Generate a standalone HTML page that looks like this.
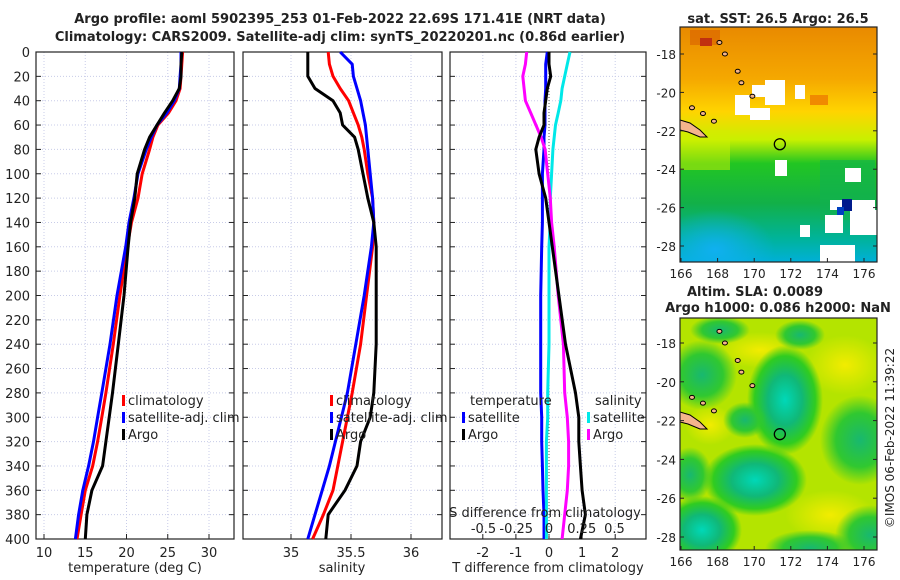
<!DOCTYPE html>
<html><head><meta charset="utf-8">
<style>
html,body{margin:0;padding:0;background:#fff;}
svg{display:block;font-family:"DejaVu Sans","Liberation Sans",sans-serif;}
</style></head>
<body>
<svg id="fig" width="900" height="580" viewBox="0 0 900 580" xmlns="http://www.w3.org/2000/svg">
<defs>
<linearGradient id="sstg" x1="0" y1="0" x2="0" y2="1">
<stop offset="0" stop-color="#e98a00"/><stop offset="0.22" stop-color="#f5a800"/>
<stop offset="0.36" stop-color="#ffd400"/><stop offset="0.48" stop-color="#c8f000"/>
<stop offset="0.58" stop-color="#22c622"/><stop offset="0.75" stop-color="#12b048"/>
<stop offset="0.9" stop-color="#00b39a"/><stop offset="1" stop-color="#00b0d8"/>
</linearGradient>
<radialGradient id="cyanblob" cx="0.5" cy="0.5" r="0.5"><stop offset="0" stop-color="#10b0f0"/><stop offset="1" stop-color="#10b0f0" stop-opacity="0"/></radialGradient>
<radialGradient id="tealblob" cx="0.5" cy="0.5" r="0.5"><stop offset="0" stop-color="#00d8b8"/><stop offset="0.45" stop-color="#10b878"/><stop offset="0.8" stop-color="#30cc20"/><stop offset="1" stop-color="#30cc20" stop-opacity="0"/></radialGradient>
<radialGradient id="greenblob" cx="0.5" cy="0.5" r="0.5"><stop offset="0" stop-color="#18b870"/><stop offset="0.6" stop-color="#30c830"/><stop offset="1" stop-color="#30c830" stop-opacity="0"/></radialGradient>
<radialGradient id="yelblob" cx="0.5" cy="0.5" r="0.5"><stop offset="0" stop-color="#f2ec00"/><stop offset="1" stop-color="#f2ec00" stop-opacity="0"/></radialGradient>
</defs>
<g id="root"></g>
</svg>
<script>
// ---- data ----
const depths = [0,10,20,30,40,50,60,70,80,100,120,140,160,200,240,280,300,320,340,360,380,400];
const tempClim = [26.8,26.7,26.6,26.5,26.0,25.1,23.8,23.2,22.8,21.9,21.4,20.6,20.1,19.2,18.4,17.5,17.0,16.5,15.9,15.0,14.5,14.0];
const tempSat  = [26.6,26.6,26.5,26.4,25.8,24.9,23.7,23.0,22.4,21.4,20.9,20.3,19.9,18.85,18.0,17.0,16.5,16.0,15.4,14.7,14.2,13.8];
const tempArgo = [26.7,26.6,26.6,26.4,25.6,24.6,23.7,22.8,22.2,21.3,21.0,20.5,20.2,19.7,19.0,18.3,17.9,17.5,17.1,15.8,15.2,15.0];
const salClim = [35.31,35.32,35.35,35.41,35.48,35.52,35.56,35.59,35.61,35.64,35.68,35.69,35.68,35.63,35.58,35.51,35.47,35.43,35.39,35.35,35.27,35.18];
const salSat  = [35.41,35.51,35.52,35.55,35.58,35.60,35.62,35.63,35.64,35.66,35.68,35.69,35.67,35.61,35.54,35.47,35.42,35.37,35.32,35.26,35.20,35.14];
const salArgo = [35.14,35.14,35.14,35.20,35.35,35.41,35.43,35.53,35.56,35.60,35.64,35.69,35.71,35.71,35.71,35.69,35.66,35.58,35.55,35.45,35.31,35.29];
const tDiffSat  = [-0.05,-0.1,-0.1,-0.1,-0.12,-0.12,-0.12,-0.15,-0.15,-0.2,-0.2,-0.2,-0.22,-0.25,-0.25,-0.25,-0.22,-0.22,-0.2,-0.18,-0.15,-0.15];
const tDiffArgo = [0.0,0.0,0.05,-0.05,-0.1,-0.15,-0.15,-0.3,-0.4,-0.3,-0.1,0.0,0.1,0.3,0.5,0.8,0.9,0.9,0.95,1.0,1.1,0.95];
const sDiffSat  = [0.16,0.14,0.12,0.10,0.09,0.07,0.05,0.04,0.03,0.02,0.01,0.01,0.0,0.0,0.0,-0.01,-0.01,-0.02,-0.02,-0.02,-0.02,-0.02];
const sDiffArgo = [-0.17,-0.18,-0.20,-0.19,-0.18,-0.14,-0.10,-0.06,-0.03,-0.01,0.01,0.02,0.04,0.07,0.11,0.12,0.14,0.15,0.15,0.14,0.12,0.10];
const depthTicks = [0,20,40,60,80,100,120,140,160,180,200,220,240,260,280,300,320,340,360,380,400];
const tempTicks = [10,15,20,25,30];
const salTicks = [35,35.5,36];
const tdTicks = [-2,-1,0,1,2];
const sdTicks = [-0.5,-0.25,0,0.25,0.5];
const sdTickLabels = ["-0.5","-0.25","0","0.25","0.5"];
const mapLonTicks = [166,168,170,172,174,176];
const mapLatTicks = [-18,-20,-22,-24,-26,-28];
const argoLon = 171.4, argoLat = -22.7;

const NS='http://www.w3.org/2000/svg';
const root=document.getElementById('root');
function mk(tag,attrs,parent,text){const e=document.createElementNS(NS,tag);for(const k in attrs)e.setAttribute(k,attrs[k]);if(text!==undefined)e.textContent=text;(parent||root).appendChild(e);return e;}

const Y0=52, Y1=539;
const yD = d => Y0 + (Y1-Y0)*d/400;
const panels = [
 {name:'temperature-panel', x0:36, x1:234, sx:v=>44+(v-10)*8.25},
 {name:'salinity-panel', x0:243, x1:442, sx:v=>291+(v-35)*120},
 {name:'difference-panel', x0:450, x1:646, sx:v=>549+v*33.1}
];
const sdx = v=>549+v*131;

function frame(p, ticks, sx){
  const g=mk('g',{});
  
  
  depthTicks.forEach(d=>{
    const l=mk('line',{x1:p.x0,x2:p.x1,y1:yD(d),y2:yD(d),stroke:'#c8cce8','stroke-width':1,'stroke-dasharray':'1,2'},g);
    
    
    mk('line',{x1:p.x0,x2:p.x0+5,y1:yD(d),y2:yD(d),stroke:'#222'},g);
    mk('line',{x1:p.x1,x2:p.x1-5,y1:yD(d),y2:yD(d),stroke:'#222'},g);
  });
  ticks.forEach(v=>{
    const x=sx(v);
    const l=mk('line',{x1:x,x2:x,y1:Y0,y2:Y1,stroke:'#c8cce8','stroke-width':1,'stroke-dasharray':'1,2'},g);
    
    
    mk('line',{x1:x,x2:x,y1:Y1,y2:Y1-5,stroke:'#222'},g);
  });
  mk('rect',{x:p.x0,y:Y0,width:p.x1-p.x0,height:Y1-Y0,fill:'none',stroke:'#222','stroke-width':1.2},g);
  return g;
}
function line(vals, sx, color, name, g){
  const pts=vals.map((v,i)=>sx(v).toFixed(1)+','+yD(depths[i]).toFixed(1)).join(' ');
  const e=mk('polyline',{points:pts,fill:'none',stroke:color,'stroke-width':3,'stroke-linejoin':'round'},g);
  
  
}
function txt(x,y,s,attrs,name,parent){
  const a=Object.assign({x:x,y:y,'font-size':13,fill:'#222'},attrs||{});
  const e=mk('text',a,parent,s);
  
  
  return e;
}
function legendEntry(x,y,color,label,g){
  const r=mk('rect',{x:x,y:y-10,width:3,height:11,fill:color},g);
  
  
  txt(x+6,y,label,{},'legend-entry',g);
}

// Titles
txt(340,23,'Argo profile: aoml 5902395_253 01-Feb-2022 22.69S 171.41E (NRT data)',{'font-weight':'bold','text-anchor':'middle','font-size':13},'chart-title-line1');
txt(340,41,'Climatology: CARS2009. Satellite-adj clim: synTS_20220201.nc (0.86d earlier)',{'font-weight':'bold','text-anchor':'middle','font-size':13},'chart-title-line2');

// Panel 1
const g1=frame(panels[0],tempTicks,panels[0].sx);
depthTicks.forEach(d=>txt(30,yD(d)+5,String(d),{'text-anchor':'end'},'y-tick-label',g1));
tempTicks.forEach(v=>txt(panels[0].sx(v),557,String(v),{'text-anchor':'middle'},'x-tick-label',g1));
txt(135,572,'temperature (deg C)',{'text-anchor':'middle'},'x-axis-title',g1);
line(tempClim,panels[0].sx,'#ff0000','temp-climatology-line',g1);
line(tempSat,panels[0].sx,'#0000ff','temp-satellite-line',g1);
line(tempArgo,panels[0].sx,'#000000','temp-argo-line',g1);
legendEntry(122,405,'#ff0000','climatology',g1);
legendEntry(122,422,'#0000ff','satellite-adj. clim',g1);
legendEntry(122,439,'#000000','Argo',g1);

// Panel 2
const g2=frame(panels[1],salTicks,panels[1].sx);
salTicks.forEach(v=>txt(panels[1].sx(v),557,String(v),{'text-anchor':'middle'},'x-tick-label',g2));
txt(342,572,'salinity',{'text-anchor':'middle'},'x-axis-title',g2);
line(salClim,panels[1].sx,'#ff0000','sal-climatology-line',g2);
line(salSat,panels[1].sx,'#0000ff','sal-satellite-line',g2);
line(salArgo,panels[1].sx,'#000000','sal-argo-line',g2);
legendEntry(330,405,'#ff0000','climatology',g2);
legendEntry(330,422,'#0000ff','satellite-adj. clim',g2);
legendEntry(330,439,'#000000','Argo',g2);

// Panel 3
const g3=frame(panels[2],tdTicks,panels[2].sx);
const z=mk('line',{x1:549,x2:549,y1:Y0,y2:Y1,stroke:'#555','stroke-width':1,'stroke-dasharray':'1,2'},g3);


tdTicks.forEach(v=>txt(panels[2].sx(v),557,String(v),{'text-anchor':'middle'},'t-diff-tick-label',g3));
txt(548,572,'T difference from climatology',{'text-anchor':'middle'},'t-diff-axis-title',g3);
line(tDiffSat,panels[2].sx,'#0000ff','tdiff-satellite-line',g3);
line(sDiffSat,sdx,'#00e8e8','sdiff-satellite-line',g3);
line(sDiffArgo,sdx,'#ff00ff','sdiff-argo-line',g3);
line(tDiffArgo,panels[2].sx,'#000000','tdiff-argo-line',g3);
txt(545,517,'S difference from climatology',{'text-anchor':'middle'},'s-diff-axis-title',g3);
sdTicks.forEach((v,i)=>txt(sdx(v),533,sdTickLabels[i],{'text-anchor':'middle'},'s-diff-tick-label',g3));
txt(470,405,'temperature',{},'legend-title-temperature',g3);
legendEntry(462,422,'#0000ff','satellite',g3);
legendEntry(462,439,'#000000','Argo',g3);
txt(595,405,'salinity',{},'legend-title-salinity',g3);
legendEntry(587,422,'#00e8e8','satellite',g3);
legendEntry(587,439,'#ff00ff','Argo',g3);

// Maps
const lonX = lon=>681+(lon-166)*18.3;
const lat1 = lat=>54+(-18-lat)*19.2;
const lat2 = lat=>343+(-18-lat)*19.4;

// SST map
const m1=mk('g',{});


const c1=mk('clipPath',{id:'cp1'},m1); mk('rect',{x:680,y:27,width:197,height:235},c1);
const b1=mk('g',{'clip-path':'url(#cp1)'},m1);
mk('rect',{x:680,y:27,width:197,height:235,fill:'url(#sstg)'},b1);
mk('ellipse',{cx:715,cy:250,rx:60,ry:40,fill:'url(#cyanblob)'},b1);
mk('rect',{x:690,y:30,width:30,height:15,fill:'#d86000',opacity:0.6},b1);
mk('rect',{x:700,y:38,width:12,height:8,fill:'#c03010'},b1);
mk('rect',{x:810,y:95,width:18,height:10,fill:'#f08a00'},b1);
mk('rect',{x:820,y:160,width:55,height:60,fill:'#10b050',opacity:0.6},b1);
mk('rect',{x:680,y:130,width:50,height:40,fill:'#d0f000',opacity:0.5},b1);
[[735,95,15,20],[752,85,25,12],[765,80,20,25],[795,85,10,14],[750,108,20,12],[775,160,12,16],[845,168,16,14],[830,200,45,10],[825,215,18,18],[850,210,27,25],[820,245,35,17],[800,225,10,12]].forEach(r=>{
  const e=mk('rect',{x:r[0],y:r[1],width:r[2],height:r[3],fill:'#fff'},b1);
  
  
});
mk('rect',{x:842,y:199,width:10,height:12,fill:'#001a8c'},b1);
mk('rect',{x:837,y:207,width:7,height:8,fill:'#0040c0'},b1);
mk('path',{d:'M680,120 L690,123 L700,130 L707,137 L700,137 L688,132 L680,130Z',fill:'#f4b48c',stroke:'#000','stroke-width':1},b1);
// SLA map
const m2=mk('g',{});


const c2=mk('clipPath',{id:'cp2'},m2); mk('rect',{x:680,y:318,width:197,height:232},c2);
const b2=mk('g',{'clip-path':'url(#cp2)'},m2);
mk('rect',{x:680,y:318,width:197,height:232,fill:'#b4e400'},b2);
[[760,350,45,18],[845,365,40,30],[830,515,45,25],[710,425,25,20]].forEach(b=>mk('ellipse',{cx:b[0],cy:b[1],rx:b[2],ry:b[3],fill:'url(#yelblob)'},b2));
[[785,400,38,55,'tealblob'],[755,480,52,36,'tealblob'],[860,440,40,45,'greenblob'],[702,530,40,34,'tealblob'],[702,375,35,35,'greenblob'],[870,535,35,30,'greenblob'],[745,420,22,18,'greenblob'],[810,548,45,18,'greenblob'],[690,475,22,28,'greenblob'],[720,330,30,14,'greenblob'],[800,335,25,15,'greenblob']].forEach(b=>{
  const e=mk('ellipse',{cx:b[0],cy:b[1],rx:b[2],ry:b[3],fill:'url(#'+b[4]+')'},b2);
  
  
});
mk('path',{d:'M680,412 L690,415 L700,422 L707,429 L700,429 L688,424 L680,422Z',fill:'#f4b48c',stroke:'#000','stroke-width':1},b2);
[[0,lat1,27,262,m1],[1,lat2,318,550,m2]].forEach(a=>{
  const latF=a[1], top=a[2], bot=a[3], g=a[4];
  [[168.1,-17.4],[168.4,-18.0],[169.1,-18.9],[169.3,-19.5],[169.9,-20.2],[166.6,-20.8],[167.2,-21.1],[167.8,-21.5]].forEach(p=>{
    mk('ellipse',{cx:lonX(p[0]),cy:latF(p[1]),rx:2.5,ry:2,fill:'#f4b48c',stroke:'#000','stroke-width':1},g);
  });
  mk('rect',{x:680,y:top,width:197,height:bot-top,fill:'none',stroke:'#222','stroke-width':1.2},g);
  const mkr=mk('circle',{cx:lonX(argoLon),cy:latF(argoLat),r:5.5,fill:'none',stroke:'#000','stroke-width':1.3},g);
  
  
  mapLatTicks.forEach(l=>{
    mk('line',{x1:877,x2:873,y1:latF(l),y2:latF(l),stroke:'#222'},g);
    mk('line',{x1:680,x2:684,y1:latF(l),y2:latF(l),stroke:'#222'},g);
    txt(676,latF(l)+5,String(l),{'font-size':12,'text-anchor':'end'},'map-lat-tick-label',g);
  });
  mapLonTicks.forEach(l=>{
    mk('line',{x1:lonX(l),x2:lonX(l),y1:bot,y2:bot-4,stroke:'#222'},g);
    txt(lonX(l),bot+16,String(l),{'text-anchor':'middle','font-size':12},'map-lon-tick-label',g);
  });
});
txt(778,23,'sat. SST: 26.5 Argo: 26.5',{'font-weight':'bold','text-anchor':'middle'},'sst-map-title',m1);
txt(755,296,'Altim. SLA: 0.0089',{'font-weight':'bold','text-anchor':'middle'},'sla-map-title-line1',m2);
txt(778,312,'Argo h1000: 0.086 h2000: NaN',{'font-weight':'bold','text-anchor':'middle'},'sla-map-title-line2',m2);
txt(0,0,'©IMOS 06-Feb-2022 11:39:22',{transform:'translate(894,438) rotate(-90)','text-anchor':'middle','font-size':12},'copyright-timestamp');
</script>
</body></html>
